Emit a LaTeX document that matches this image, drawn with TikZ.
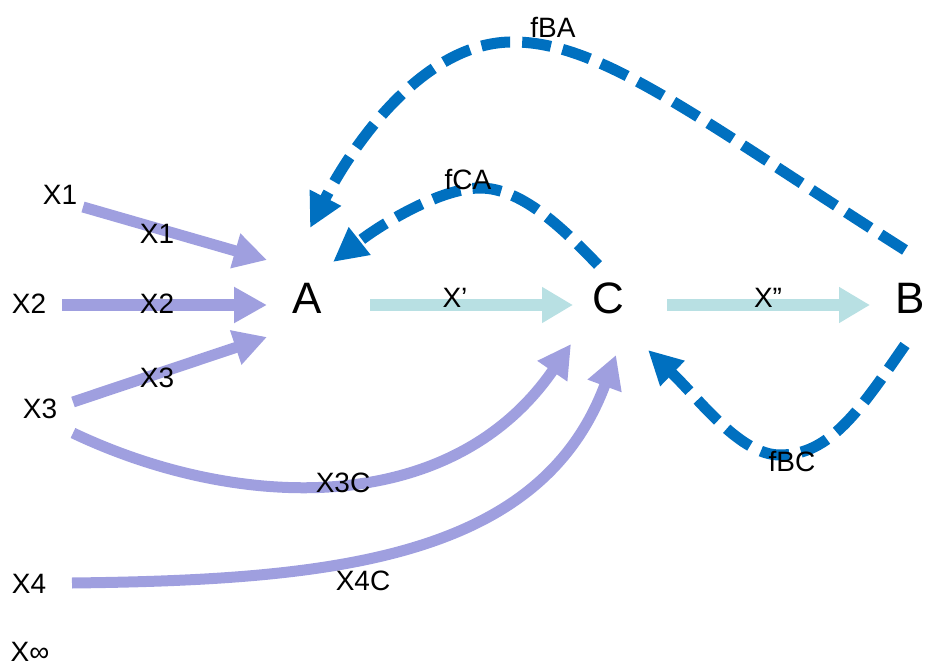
\documentclass[tikz,border=0pt]{standalone}
\usepackage{fontspec}
\setmainfont{Liberation Sans}
\usetikzlibrary{arrows.meta}
\definecolor{inflow}{HTML}{9F9FDF}
\definecolor{passon}{HTML}{B8E0E3}
\definecolor{feedback}{HTML}{0070C0}

\begin{document}
\begin{tikzpicture}[x=1pt,y=-1pt]
  \tikzset{
    lbl/.style={font=\fontsize{28}{32}\selectfont, inner sep=0pt},
    stock/.style={font=\fontsize{44}{50}\selectfont, inner sep=0pt},
    inarrow/.style={draw=inflow, line width=11pt, -{Triangle[length=33pt,width=34pt]}},
    passarrow/.style={draw=passon, line width=11pt, -{Triangle[length=31pt,width=34pt]}},
    fback/.style={draw=feedback, line width=11pt, dash pattern=on 29pt off 12pt, -{Triangle[length=34pt,width=33pt]}}
  }
  \useasboundingbox (0,0) rectangle (926,668);

  % arrow ends
  \coordinate (x1s) at (83,207);   \coordinate (x1e) at (267,260);
  \coordinate (x2s) at (62,305);   \coordinate (x2e) at (267,305);
  \coordinate (x3s) at (73,402);   \coordinate (x3e) at (267,337);
  \coordinate (x3cs) at (73,433);  \coordinate (x3ce) at (571,344);
  \coordinate (x4s) at (72,583);   \coordinate (x4e) at (616,355);
  \coordinate (acs) at (370,305);  \coordinate (ace) at (573,305);
  \coordinate (cbs) at (667,305);  \coordinate (cbe) at (870,305);
  \coordinate (bas) at (905,250);  \coordinate (bae) at (310,228);
  \coordinate (cas) at (598,265);  \coordinate (cae) at (333,262);
  \coordinate (bcs) at (905,345);  \coordinate (bce) at (648,350);

  % inflows
  \draw[inarrow] (x1s) -- (x1e);
  \draw[inarrow] (x2s) -- (x2e);
  \draw[inarrow] (x3s) -- (x3e);
  \draw[inarrow] (x3cs) .. controls (235,510) and (450,520) .. (x3ce);
  \draw[inarrow] (x4s) .. controls (330,580) and (540,560) .. (x4e);

  % A -> C -> B
  \draw[passarrow] (acs) -- (ace);
  \draw[passarrow] (cbs) -- (cbe);

  % feedbacks
  \draw[fback] (bas) .. controls (700,120) and (600,40) .. (510,42)
    .. controls (420,44) and (350,150) .. (bae);
  \draw[fback] (cas) .. controls (560,225) and (520,188) .. (480,188)
    .. controls (440,188) and (380,225) .. (cae);
  \draw[fback] (bcs) .. controls (860,410) and (830,455) .. (780,455)
    .. controls (740,455) and (700,400) .. (bce);

  % stocks
  \node[stock] (A) at (307,298) {A};
  \node[stock] (C) at (608,298) {C};
  \node[stock] (B) at (910,298) {B};

  % sources
  \node[lbl] (X1) at (60,195) {X1};
  \node[lbl] (X2) at (29,304) {X2};
  \node[lbl] (X3) at (40,409) {X3};
  \node[lbl] (X4) at (29,584) {X4};
  \node[lbl] (Xinf) at (30,652) {X∞};

  % flow labels
  \node[lbl] (l1) at (157,234) {X1};
  \node[lbl] (l2) at (157,304) {X2};
  \node[lbl] (l3) at (157,378) {X3};
  \node[lbl] (l3c) at (343,483) {X3C};
  \node[lbl] (l4c) at (363,581) {X4C};
  \node[lbl] (lac) at (455,298) {X’};
  \node[lbl] (lcb) at (768,298) {X”};
  \node[lbl] (lca) at (468,180) {fCA};
  \node[lbl] (lba) at (553,27) {fBA};
  \node[lbl] (lbc) at (792,462) {fBC};
\end{tikzpicture}
\end{document}
